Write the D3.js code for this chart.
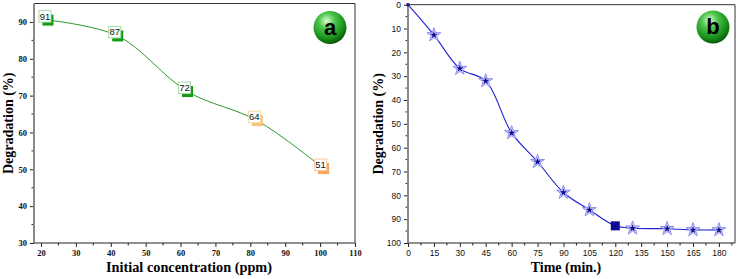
<!DOCTYPE html>
<html>
<head>
<meta charset="utf-8">
<script src="https://cdn.jsdelivr.net/npm/d3@7"></script>
<style>
  html, body { margin: 0; padding: 0; background: #fff; }
  svg { display: block; }
</style>
</head>
<body>
<div id="chart"></div>
<script>
// Panel a : degradation vs initial concentration
const concX = [22, 42, 62, 82, 101];
const concY = [90.5, 86.2, 71.1, 63.2, 50.2];
const concLabels = ['91', '87', '72', '64', '51'];
const concColors = ['#139a13', '#139a13', '#139a13', '#f3c777', '#f7a45c'];
const concBorders = ['#a8dca8', '#a8dca8', '#a8dca8', '#f3d9a8', '#f5c9a0'];
const concXTicks = [20, 30, 40, 50, 60, 70, 80, 90, 100, 110];
const concYTicks = [30, 40, 50, 60, 70, 80, 90];

// Panel b : degradation vs time
const timeX = [0, 15, 30, 45, 60, 75, 90, 105, 120, 130, 150, 165, 180];
const timeY = [0, 12.7, 26.8, 32, 53.8, 65.9, 78.8, 86.1, 92.8, 93.8, 94, 94.5, 94.5];
const timeXTicks = [0, 15, 30, 45, 60, 75, 90, 105, 120, 135, 150, 165, 180];
const timeYTicks = [0, 10, 20, 30, 40, 50, 60, 70, 80, 90, 100];

const W = 738, H = 279;
const svg = d3.select('#chart').append('svg')
    .attr('width', W)
    .attr('height', H);

const defs = svg.append('defs');
const grad = defs.append('radialGradient')
    .attr('id', 'ball')
    .attr('cx', '40%').attr('cy', '30%').attr('r', '70%');
grad.append('stop').attr('offset', '0%').attr('stop-color', '#d8ffd0');
grad.append('stop').attr('offset', '35%').attr('stop-color', '#4cc44c');
grad.append('stop').attr('offset', '80%').attr('stop-color', '#158a15');
grad.append('stop').attr('offset', '100%').attr('stop-color', '#0a5a0a');

const serif = '"Liberation Serif", "Times New Roman", serif';
const sans = '"Liberation Sans", Arial, sans-serif';

function drawFrame(g, x, y, xTicks, yTicks, xMinor, yMinor, tickFont, tickWeight) {
    const [x0, x1] = x.range();
    const [y0, y1] = y.range().slice().sort((a, b) => a - b);

    // minor ticks
    g.append('g').selectAll('line.xm')
        .data(xMinor)
        .enter().append('line')
        .attr('x1', d => x(d)).attr('x2', d => x(d))
        .attr('y1', y1).attr('y2', y1 + 2.5)
        .attr('stroke', '#222').attr('stroke-width', 1);
    g.append('g').selectAll('line.ym')
        .data(yMinor)
        .enter().append('line')
        .attr('x1', x0 - 2.5).attr('x2', x0)
        .attr('y1', d => y(d)).attr('y2', d => y(d))
        .attr('stroke', '#222').attr('stroke-width', 1);

    const xAxis = g.append('g')
        .attr('transform', `translate(0,${y1})`)
        .call(d3.axisBottom(x).tickValues(xTicks).tickSize(4).tickPadding(3).tickSizeOuter(0));
    const yAxis = g.append('g')
        .attr('transform', `translate(${x0},0)`)
        .call(d3.axisLeft(y).tickValues(yTicks).tickSize(4).tickPadding(3).tickSizeOuter(0));

    [xAxis, yAxis].forEach(ax => {
        ax.select('.domain').remove();
        ax.selectAll('line').attr('stroke', '#222');
        ax.selectAll('text')
            .style('font-family', tickFont)
            .style('font-weight', tickWeight)
            .style('font-size', '8.5px')
            .attr('fill', '#111');
    });

    // frame
    g.append('line').attr('x1', x0).attr('x2', x1).attr('y1', y0).attr('y2', y0)
        .attr('stroke', '#333').attr('stroke-width', 1);
    g.append('line').attr('x1', x1).attr('x2', x1).attr('y1', y0).attr('y2', y1)
        .attr('stroke', '#333').attr('stroke-width', 1);
    g.append('line').attr('x1', x0).attr('x2', x1).attr('y1', y1).attr('y2', y1)
        .attr('stroke', '#222').attr('stroke-width', 1.2);
    g.append('line').attr('x1', x0).attr('x2', x0).attr('y1', y0).attr('y2', y1)
        .attr('stroke', '#8a8a8a').attr('stroke-width', 2);
}

function drawBadge(g, cx, cy, letter) {
    g.append('circle')
        .attr('cx', cx).attr('cy', cy).attr('r', 16.5)
        .attr('fill', 'url(#ball)');
    g.append('text')
        .attr('x', cx).attr('y', cy + 7)
        .attr('text-anchor', 'middle')
        .style('font-family', sans)
        .style('font-weight', 'bold')
        .style('font-size', '22px')
        .attr('fill', '#000')
        .text(letter);
}

// ---------- Panel a ----------
const ga = svg.append('g');
const xa = d3.scaleLinear().domain([18, 110]).range([34, 355]);
const ya = d3.scaleLinear().domain([30, 95]).range([243, 3.5]);

drawFrame(ga, xa, ya, concXTicks, concYTicks,
    d3.range(25, 110, 10), d3.range(35, 95, 10), serif, 'bold');

const pa = concX.map((d, i) => [xa(d), ya(concY[i])]);
ga.append('path')
    .attr('d', d3.line().curve(d3.curveCatmullRom.alpha(0.5))(pa))
    .attr('fill', 'none')
    .attr('stroke', '#2a9a2a')
    .attr('stroke-width', 1);

const marksA = ga.selectAll('g.mark')
    .data(concX)
    .enter().append('g')
    .attr('class', 'mark')
    .attr('transform', (d, i) => `translate(${xa(d)},${ya(concY[i])})`);
marksA.append('rect')
    .attr('x', -5.5).attr('y', -5.5).attr('width', 11).attr('height', 11)
    .attr('fill', (d, i) => concColors[i]);
marksA.append('rect')
    .attr('x', -9).attr('y', -9.5).attr('width', 12).attr('height', 11.5)
    .attr('fill', '#fff')
    .attr('stroke', (d, i) => concBorders[i])
    .attr('stroke-width', 1);
marksA.append('text')
    .attr('x', -3).attr('y', -0.5)
    .attr('text-anchor', 'middle')
    .style('font-family', sans)
    .style('font-size', '9.5px')
    .attr('fill', '#111')
    .text((d, i) => concLabels[i]);

drawBadge(ga, 330, 27.5, 'a');

ga.append('text')
    .attr('transform', `translate(13,${(3.5 + 243) / 2}) rotate(-90)`)
    .attr('text-anchor', 'middle')
    .style('font-family', serif)
    .style('font-weight', 'bold')
    .style('font-size', '14px')
    .text('Degradation (%)');
ga.append('text')
    .attr('x', 189).attr('y', 272)
    .attr('text-anchor', 'middle')
    .style('font-family', serif)
    .style('font-weight', 'bold')
    .style('font-size', '14.3px')
    .text('Initial concentration (ppm)');

// ---------- Panel b ----------
const gb = svg.append('g');
const xb = d3.scaleLinear().domain([0, 189.3]).range([408, 735]);
const yb = d3.scaleLinear().domain([0, 100]).range([4.7, 243]);

drawFrame(gb, xb, yb, timeXTicks, timeYTicks,
    d3.range(7.5, 189, 15), d3.range(5, 100, 10), sans, 'normal');

const pb = timeX.map((d, i) => [xb(d), yb(timeY[i])]);
gb.append('path')
    .attr('d', d3.line().curve(d3.curveCatmullRom.alpha(0.5))(pb))
    .attr('fill', 'none')
    .attr('stroke', '#1f1fd6')
    .attr('stroke-width', 1.1);

const star = d3.symbol().type(d3.symbolStar);
const marksB = gb.selectAll('g.mark')
    .data(timeX)
    .enter().append('g')
    .attr('class', 'mark')
    .attr('transform', (d, i) => `translate(${xb(d)},${yb(timeY[i])})`);

marksB.each(function(d, i) {
    const m = d3.select(this);
    if (i === 0) {
        m.append('rect').attr('x', -1.5).attr('y', -1.5).attr('width', 3).attr('height', 3)
            .attr('fill', '#10108a');
    } else if (d === 120) {
        m.append('rect').attr('x', -4.5).attr('y', -4.5).attr('width', 9).attr('height', 9)
            .attr('fill', '#0c0c96');
    } else {
        m.append('path').attr('d', star.size(60)())
            .attr('fill', '#d8d8ff')
            .attr('stroke', '#8c8cf0')
            .attr('stroke-width', 1);
        m.append('path').attr('d', star.size(18)())
            .attr('fill', '#10108a');
    }
});

drawBadge(gb, 713, 27, 'b');

gb.append('text')
    .attr('transform', `translate(383,${(4.7 + 243) / 2}) rotate(-90)`)
    .attr('text-anchor', 'middle')
    .style('font-family', serif)
    .style('font-weight', 'bold')
    .style('font-size', '14px')
    .text('Degradation (%)');
gb.append('text')
    .attr('x', 566).attr('y', 272)
    .attr('text-anchor', 'middle')
    .style('font-family', serif)
    .style('font-weight', 'bold')
    .style('font-size', '14px')
    .text('Time (min.)');
</script>
</body>
</html>
